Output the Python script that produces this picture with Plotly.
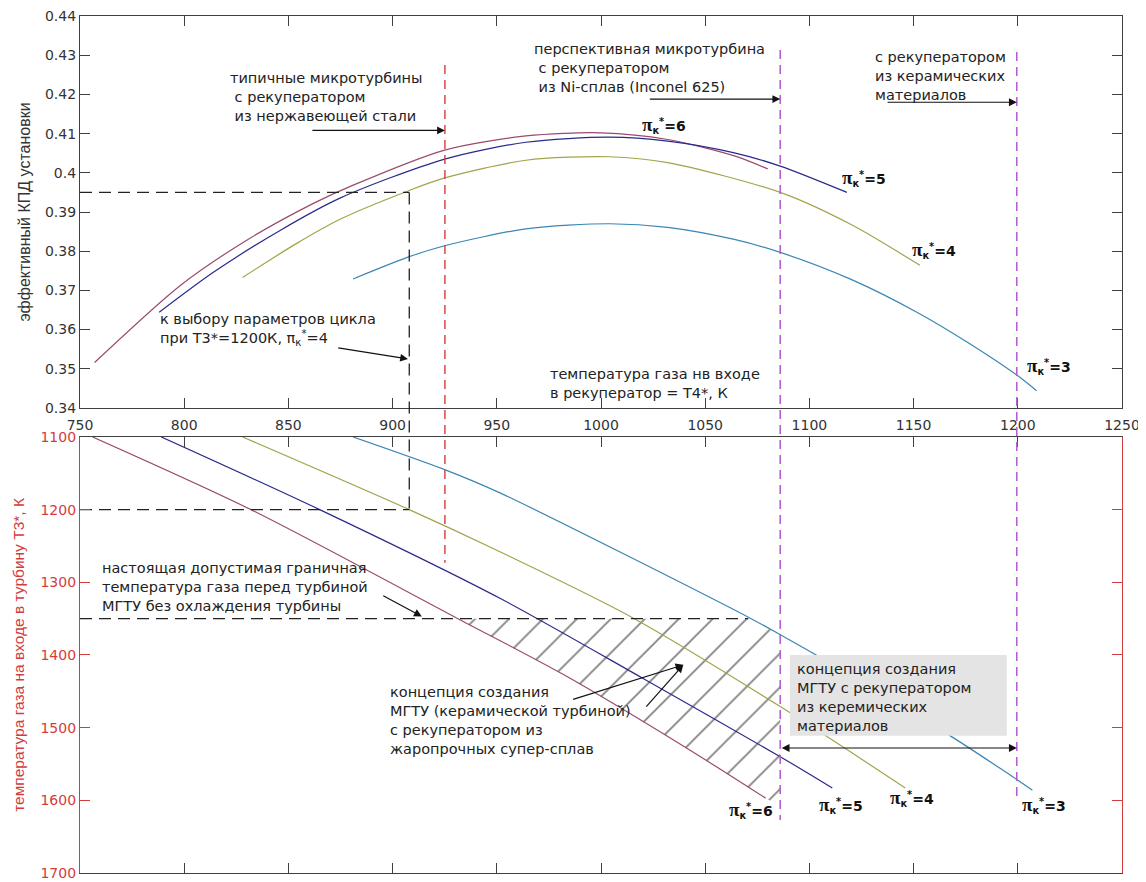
import plotly.graph_objects as go

# ---------------- data ----------------
# upper panel: effective efficiency vs gas temperature at recuperator inlet T4*
pi6_T4 = [757, 798, 830, 862, 880, 925, 964, 1000, 1032, 1064, 1080]
pi6_eta = [0.3516, 0.3712, 0.3828, 0.3922, 0.3966, 0.4058, 0.4094, 0.4102, 0.4085, 0.4043, 0.4010]
pi5_T4 = [788, 814, 846, 875, 925, 964, 1004, 1032, 1064, 1086, 1118]
pi5_eta = [0.3644, 0.3746, 0.3853, 0.3936, 0.4035, 0.4078, 0.4091, 0.4081, 0.4051, 0.4017, 0.3950]
pi4_T4 = [828, 854, 875, 908, 925, 964, 1004, 1032, 1086, 1120, 1153]
pi4_eta = [0.3733, 0.3820, 0.3882, 0.3955, 0.3987, 0.4032, 0.4041, 0.4026, 0.3950, 0.3868, 0.3764]
pi3_T4 = [881, 908, 925, 964, 1004, 1032, 1064, 1086, 1120, 1152, 1176, 1200, 1209]
pi3_eta = [0.3729, 0.3786, 0.3814, 0.3857, 0.3870, 0.3861, 0.3830, 0.3797, 0.3728, 0.3643, 0.3567, 0.3482, 0.3444]

# lower panel: turbine inlet temperature T3* vs T4*
pi6_T4b = [756, 832, 930, 982, 1041, 1079]
pi6_T3 = [1100, 1200, 1348, 1427, 1528, 1597]
pi5_T4b = [789, 865, 951.5, 1020, 1086, 1111]
pi5_T3 = [1100, 1200, 1322, 1432, 1540, 1583]
pi4_T4b = [828, 908, 951.5, 1014.7, 1086, 1146]
pi4_T3 = [1100, 1200, 1258, 1348, 1471, 1583]
pi3_T4b = [881, 925, 951.5, 1070.7, 1086, 1102, 1168, 1191.5, 1207]
pi3_T3 = [1100, 1145, 1177, 1348, 1372, 1398, 1512, 1556, 1586]

# hatched region (concept with super-alloy recuperator)
hatch_T4 = [931, 1070.7, 1086, 1086, 1079, 1041, 982, 931]
hatch_T3 = [1350, 1350, 1372, 1608, 1597, 1528, 1427, 1350]

# reference levels
eta_sel = 0.395
T4_sel = 908
T3_sel = 1200
T3_limit = 1350
T4_limit_end = 1070.7

# vertical material-limit lines: T4 position, top end (eta), bottom end (T3)
vl_T4 = [908, 925.1, 1086, 1199.5]
vl_eta = [0.395, 0.4275, 0.4313, 0.4308]
vl_T3 = [1200, 1273, 1627, 1595]

x_ticks = [750, 800, 850, 900, 950, 1000, 1050, 1100, 1150, 1200, 1250]
y_ticks = [0.34, 0.35, 0.36, 0.37, 0.38, 0.39, 0.40, 0.41, 0.42, 0.43, 0.44]
y_ticklabels = ['0.34', '0.35', '0.36', '0.37', '0.38', '0.39', '0.4', '0.41', '0.42', '0.43', '0.44']
y2_ticks = [1100, 1200, 1300, 1400, 1500, 1600, 1700]

# ---------------- styling ----------------
C6, C5, C4, C3 = '#9a4a6e', '#2a2a8c', '#a3a34c', '#3a86b4'
RED = '#d43c3c'
MAG = '#b65fd0'
AX = '#404040'
FONT = 'DejaVu Sans'
TOP_DOM = [0.5426, 1.0]
BOT_DOM = [0.0, 0.5088]
XR = [750, 1250]
YR = [0.34, 0.44]
Y2R = [1700, 1100]


def top_paper(v):
    return TOP_DOM[0] + (v - YR[0]) / (YR[1] - YR[0]) * (TOP_DOM[1] - TOP_DOM[0])


def bot_paper(v):
    return BOT_DOM[1] - (v - Y2R[1]) / (Y2R[0] - Y2R[1]) * (BOT_DOM[1] - BOT_DOM[0])


fig = go.Figure()

# hatch
fig.add_trace(go.Scatter(x=hatch_T4, y=hatch_T3, xaxis='x2', yaxis='y2', mode='lines',
                         fill='toself', fillcolor='rgba(0,0,0,0)', line=dict(width=0),
                         fillpattern=dict(shape='/', fgcolor='#000000', bgcolor='rgba(0,0,0,0)',
                                          size=24, solidity=0.07),
                         hoverinfo='skip'))

for xs, ys, c in [(pi6_T4, pi6_eta, C6), (pi5_T4, pi5_eta, C5), (pi4_T4, pi4_eta, C4), (pi3_T4, pi3_eta, C3)]:
    fig.add_trace(go.Scatter(x=xs, y=ys, mode='lines',
                             line=dict(color=c, width=1.2, shape='spline', smoothing=0.8),
                             xaxis='x', yaxis='y'))
for xs, ys, c in [(pi6_T4b, pi6_T3, C6), (pi5_T4b, pi5_T3, C5), (pi4_T4b, pi4_T3, C4), (pi3_T4b, pi3_T3, C3)]:
    fig.add_trace(go.Scatter(x=xs, y=ys, mode='lines',
                             line=dict(color=c, width=1.2, shape='spline', smoothing=0.8),
                             xaxis='x2', yaxis='y2'))

# black dashed reference lines
BD = dict(color='#222222', width=1.3, dash='12px,7px')
fig.add_trace(go.Scatter(x=[XR[0], T4_sel], y=[eta_sel, eta_sel], mode='lines', line=BD, xaxis='x', yaxis='y'))
fig.add_trace(go.Scatter(x=[XR[0], T4_sel], y=[T3_sel, T3_sel], mode='lines', line=BD, xaxis='x2', yaxis='y2'))
fig.add_trace(go.Scatter(x=[XR[0], T4_limit_end], y=[T3_limit, T3_limit], mode='lines', line=BD, xaxis='x2', yaxis='y2'))

shapes = []
vl_styles = [dict(color='#222222', width=1.3, dash='12px,7px'),
             dict(color=RED, width=1.4, dash='9px,6px'),
             dict(color=MAG, width=1.6, dash='9px,6px'),
             dict(color=MAG, width=1.6, dash='9px,6px')]
for xv, e, t, st in zip(vl_T4, vl_eta, vl_T3, vl_styles):
    shapes.append(dict(type='line', xref='x', yref='paper', x0=xv, x1=xv,
                       y0=top_paper(e), y1=bot_paper(t), line=st, layer='above'))
# grey box of the ceramic concept
shapes.append(dict(type='rect', xref='x2', yref='y2', x0=1090.7, x1=1194.7, y0=1400, y1=1511,
                   fillcolor='#e4e4e4', line=dict(width=0), layer='above'))

TF = dict(family=FONT, size=14.5, color='#222222')
LF = dict(family=FONT, size=14, color='#111111')
NB = '\u00a0'
PIK = '<span style="font-family:Liberation Serif;font-size:19px">π</span><sub>к</sub><sup>*</sup>'


def txt(x, y, text, xref='x', yref='y'):
    return dict(x=x, y=y, xref=xref, yref=yref, text=text, showarrow=False, xanchor='left',
                yanchor='middle', align='left', font=TF)


def arrow(x, y, ax, ay, xref='x', yref='y', side='end'):
    return dict(x=x, y=y, ax=ax, ay=ay, xref=xref, yref=yref, axref=xref, ayref=yref, text='',
                showarrow=True, arrowhead=2, arrowsize=1.3, arrowwidth=1.2, arrowcolor='#111111',
                arrowside=side, standoff=0, startstandoff=0)


def pilabel(x, y, n, xref='x', yref='y'):
    return dict(x=x, y=y, xref=xref, yref=yref, showarrow=False, xanchor='left', yanchor='middle',
                text='<b>' + PIK + '=' + n + '</b>', font=LF)


annotations = [
    txt(821.0, 0.4193, 'типичные микротурбины<br>' + NB + 'с рекуператором<br>' + NB + 'из нержавеющей стали'),
    txt(966.7, 0.4267, 'перспективная микротурбина<br>' + NB + 'с рекуператором<br>' + NB + 'из Ni-сплав (Inconel 625)'),
    txt(1130.7, 0.4247, 'с рекуператором<br>из керамических<br>материалов'),
    txt(787.4, 0.3600, 'к выбору параметров цикла<br>при Т3*=1200К, π<sub>к</sub><sup>*</sup>=4'),
    txt(974.6, 0.3463, 'температура газа нв входе<br>в рекуператор = T4*, К'),
    txt(759.6, 1306.3, 'настоящая допустимая граничная<br>температура газа перед турбиной<br>МГТУ без охлаждения турбины', 'x2', 'y2'),
    txt(897.8, 1490.6, 'концепция создания<br>МГТУ (керамической турбиной)<br>с рекуператором из<br>жаропрочных супер-сплав', 'x2', 'y2'),
    txt(1093.0, 1458.3, 'концепция создания<br>МГТУ с рекуператором<br>из керемических<br>материалов', 'x2', 'y2'),
    arrow(925.1, 0.4108, 860.8, 0.4108),
    arrow(1086, 0.4188, 1022.7, 0.4188),
    arrow(1199.5, 0.4180, 1136.8, 0.4180),
    arrow(907.4, 0.3525, 873.2, 0.3554),
    arrow(914.0, 1347, 894.8, 1317.3, 'x2', 'y2'),
    arrow(1039.5, 1413.6, 985.9, 1461.8, 'x2', 'y2'),
    arrow(1039.5, 1413.6, 1021.1, 1473.0, 'x2', 'y2'),
    arrow(1199.5, 1528, 1086, 1528, 'x2', 'y2', 'end+start'),
    pilabel(1018.7, 0.4121, '6'),
    pilabel(1114.7, 0.3988, '5'),
    pilabel(1148.3, 0.3802, '4'),
    pilabel(1203.5, 0.3508, '3'),
    pilabel(1060.3, 1613, '6', 'x2', 'y2'),
    pilabel(1103.5, 1606, '5', 'x2', 'y2'),
    pilabel(1137.9, 1597, '4', 'x2', 'y2'),
    pilabel(1201.0, 1606, '3', 'x2', 'y2'),
]

tickfont = dict(family=FONT, size=14, color='#333333')
common_x = dict(range=XR, tickvals=x_ticks, ticks='inside', ticklen=10, tickcolor=AX, showline=True,
                linecolor=AX, linewidth=1.2, mirror='ticks', showgrid=False, zeroline=False,
                automargin=False, ticklabeloverflow='allow')
# the page body adds an 8 px offset, so the figure is 8 px smaller and margins are shifted
fig.update_layout(
    width=1138, height=874,
    margin=dict(l=72, r=24, t=8, b=9, autoexpand=False),
    paper_bgcolor='white', plot_bgcolor='white',
    showlegend=False,
    xaxis=dict(domain=[0, 1], anchor='y', tickfont=tickfont, ticklabelstandoff=4, **common_x),
    xaxis2=dict(domain=[0, 1], anchor='y2', showticklabels=False, **common_x),
    yaxis=dict(domain=TOP_DOM, anchor='x', range=YR, tickvals=y_ticks, ticktext=y_ticklabels,
               ticks='inside', ticklen=10, tickcolor=AX, showline=True, linecolor=AX, linewidth=1.2,
               mirror='ticks', showgrid=False, zeroline=False, tickfont=tickfont, automargin=False,
               ticklabeloverflow='allow',
               title=dict(text='эффективный КПД установки', standoff=10,
                          font=dict(family='Liberation Sans', size=16, color='#333333'))),
    yaxis2=dict(domain=BOT_DOM, anchor='x2', range=Y2R, tickvals=y2_ticks,
                ticks='inside', ticklen=10, tickcolor=RED, showline=True, linecolor=RED, linewidth=1.2,
                mirror='ticks', showgrid=False, zeroline=False, automargin=False,
                ticklabeloverflow='allow',
                tickfont=dict(family=FONT, size=14, color=RED),
                title=dict(text='температура газа на входе в турбину Т3*, К', standoff=12,
                           font=dict(family='Liberation Sans', size=15.5, color=RED))),
    shapes=shapes,
    annotations=annotations,
)

fig.write_html('out.html')
